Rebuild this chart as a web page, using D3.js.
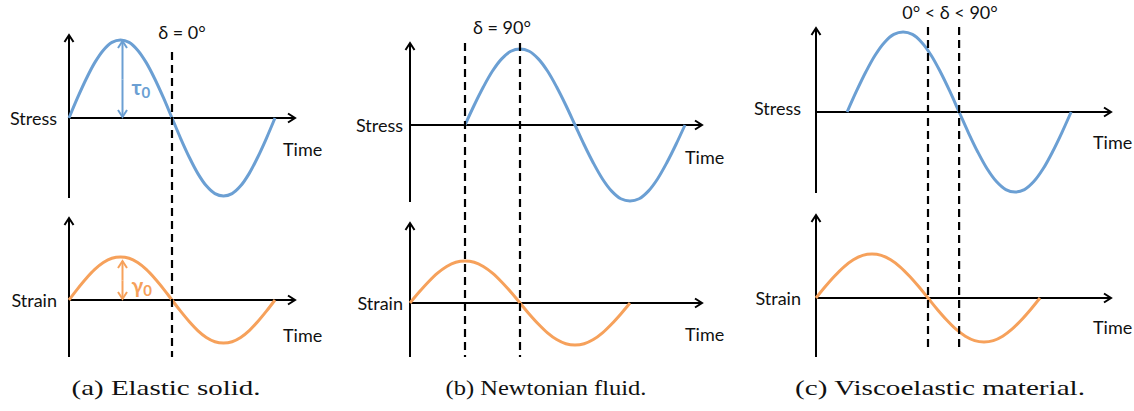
<!DOCTYPE html>
<html>
<head>
<meta charset="utf-8">
<script src="https://cdn.jsdelivr.net/npm/d3@7"></script>
<style>
  html, body { margin: 0; padding: 0; background: #ffffff; }
  svg { display: block; }
  .lbl { font-family: Lato, "Open Sans", sans-serif; font-size: 18px; fill: #111; }
  .cap { font-family: "Liberation Serif", "DejaVu Serif", serif; font-size: 22px; fill: #111; }
</style>
</head>
<body>
<svg id="chart" width="1134" height="411"></svg>
<script>
// ---- data ----
const captions = ["(a) Elastic solid.", "(b) Newtonian fluid.", "(c) Viscoelastic material."];
const deltaLabels = ["δ = 0°", "δ = 90°", "0° < δ < 90°"];
const stressLagDeg = [0, 90, 50];            // phase lag of stress vs strain
const markerDeg = [[180], [90, 180], [180, 230]]; // dashed guide positions
const waveDeg = [0,15,30,45,60,75,90,105,120,135,150,165,180,195,210,225,240,255,270,285,300,315,330,345,360];
const waveVal = [0,0.26,0.5,0.71,0.87,0.97,1,0.97,0.87,0.71,0.5,0.26,0,-0.26,-0.5,-0.71,-0.87,-0.97,-1,-0.97,-0.87,-0.71,-0.5,-0.26,0];
const amplitudeLabels = [["τ", "γ"], null, null];
const axisNames = ["Stress", "Strain"];
const timeLabel = "Time";

// ---- layout (pixels) ----
const layout = [
  { x0: 69, x360: 275, xEnd: 295,
    top: { base: 118, amp: 78, yTop: 35, yBot: 198, time: 156, nameY: 118 },
    bot: { base: 300, amp: 43, yTop: 218, yBot: 357, time: 342, nameY: 300 },
    dash: [52, 357], deltaX: 182, deltaY: 39, nameRight: 57, timeX: 283, capX: 166 },
  { x0: 410, x360: 630, xEnd: 702,
    top: { base: 125, amp: 76, yTop: 43, yBot: 202, time: 164, nameY: 125 },
    bot: { base: 303, amp: 42, yTop: 223, yBot: 357, time: 341, nameY: 303 },
    dash: [43, 357], deltaX: 502, deltaY: 34, nameRight: 403, timeX: 685, capX: 546 },
  { x0: 816, x360: 1040, xEnd: 1111,
    top: { base: 112, amp: 80, yTop: 28, yBot: 193, time: 149, nameY: 108 },
    bot: { base: 298, amp: 44, yTop: 215, yBot: 357, time: 334, nameY: 298 },
    dash: [27, 348], deltaX: 950, deltaY: 19, nameRight: 801, timeX: 1093, capX: 940 }
];
const capWidths = [189, 201, 290];

const blue = "#6b9fd3", orange = "#f6a15b";

const svg = d3.select("#chart");
const defs = svg.append("defs");
function marker(id, color) {
  defs.append("marker").attr("id", id)
    .attr("viewBox", "0 0 12 12").attr("refX", 10).attr("refY", 6)
    .attr("markerWidth", 12).attr("markerHeight", 12)
    .attr("markerUnits", "userSpaceOnUse").attr("orient", "auto-start-reverse")
    .append("path").attr("d", "M3,1.5 L10,6 L3,10.5")
    .attr("fill", "none").attr("stroke", color).attr("stroke-width", 2)
    .attr("stroke-linejoin", "miter");
}
marker("arrBlack", "#000");
marker("arrBlue", blue);
marker("arrOrange", orange);

layout.forEach((L, i) => {
  const g = svg.append("g");
  const x = d3.scaleLinear().domain([0, 360]).range([L.x0, L.x360]);

  ["top", "bot"].forEach((k, j) => {
    const P = L[k];
    const y = d3.scaleLinear().domain([-1, 1]).range([P.base + P.amp, P.base - P.amp]);
    const lag = j === 0 ? stressLagDeg[i] : 0;
    const color = j === 0 ? blue : orange;

    // axes
    g.append("line").attr("x1", L.x0).attr("x2", L.x0).attr("y1", P.yBot).attr("y2", P.yTop)
      .attr("stroke", "#000").attr("stroke-width", 2).attr("marker-end", "url(#arrBlack)");
    g.append("line").attr("x1", L.x0).attr("x2", L.xEnd).attr("y1", y(0)).attr("y2", y(0))
      .attr("stroke", "#000").attr("stroke-width", 2).attr("marker-end", "url(#arrBlack)");

    // wave
    const line = d3.line().x((d, n) => x(d + lag)).y((d, n) => y(waveVal[n])).curve(d3.curveCatmullRom);
    g.append("path").attr("d", line(waveDeg)).attr("fill", "none")
      .attr("stroke", color).attr("stroke-width", 3).attr("stroke-linecap", "butt");

    // labels
    g.append("text").attr("class", "lbl").attr("x", L.nameRight).attr("y", P.nameY)
      .attr("text-anchor", "end").attr("dominant-baseline", "central").text(axisNames[j]);
    g.append("text").attr("class", "lbl").attr("x", L.timeX).attr("y", P.time).text(timeLabel);

    // amplitude arrows
    if (amplitudeLabels[i]) {
      const ax = x(90) + 2;
      const mk = j === 0 ? "url(#arrBlue)" : "url(#arrOrange)";
      const yTopA = j === 0 ? y(1) + 1 : y(1) + 4;
      g.append("line").attr("x1", ax).attr("x2", ax).attr("y1", (yTopA + y(0)) / 2).attr("y2", yTopA)
        .attr("stroke", color).attr("stroke-width", 2).attr("marker-end", mk);
      g.append("line").attr("x1", ax).attr("x2", ax).attr("y1", (yTopA + y(0)) / 2).attr("y2", y(0) - 1)
        .attr("stroke", color).attr("stroke-width", 2).attr("marker-end", mk);
      const t = g.append("text").attr("x", ax + 9).attr("y", j === 0 ? 95 : 293)
        .attr("font-family", "Lato, sans-serif").attr("font-weight", "bold")
        .attr("font-size", 21).attr("fill", color);
      t.append("tspan").text(amplitudeLabels[i][j]);
      t.append("tspan").attr("font-size", 15).attr("dy", 3).text("0");
    }
  });

  // dashed guides
  markerDeg[i].forEach(d => {
    g.append("line").attr("x1", x(d)).attr("x2", x(d)).attr("y1", L.dash[0]).attr("y2", L.dash[1])
      .attr("stroke", "#000").attr("stroke-width", 2.2).attr("stroke-dasharray", "8,5");
  });

  g.append("text").attr("class", "lbl").attr("x", L.deltaX).attr("y", L.deltaY)
    .attr("text-anchor", "middle").attr("font-size", 19).text(deltaLabels[i]);

  svg.append("text").attr("class", "cap").attr("x", L.capX - capWidths[i] / 2).attr("y", 395)
    .attr("textLength", capWidths[i]).attr("lengthAdjust", "spacingAndGlyphs").text(captions[i]);
});
</script>
</body>
</html>
